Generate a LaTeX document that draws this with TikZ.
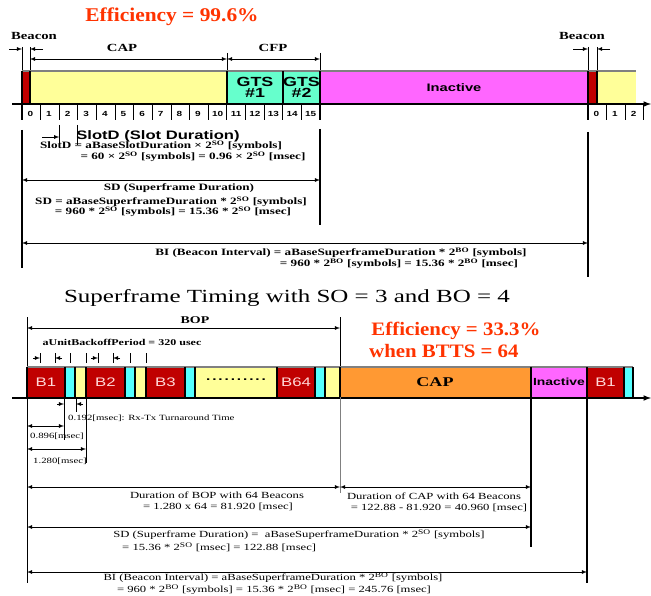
\documentclass[tikz,border=0pt]{standalone}
\usepackage{fontspec}
\setmainfont{Liberation Serif}[FakeStretch=1.35]
\setsansfont{Liberation Sans}[FakeStretch=1.35]
\newfontfamily\serifrouge{Liberation Serif}[FakeStretch=1.1]
\definecolor{rougeBalise}{HTML}{C00000}
\definecolor{jauneCAP}{HTML}{FFFF99}
\definecolor{vertGTS}{HTML}{66FFCC}
\definecolor{roseInactif}{HTML}{FF66FF}
\definecolor{cyanTour}{HTML}{55FFFF}
\definecolor{orangeCAP}{HTML}{FF9933}
\definecolor{rougeTexte}{HTML}{FF3300}
\definecolor{roseTexte}{HTML}{FFD8D8}
\definecolor{grisBord}{HTML}{808080}
\begin{document}
\begin{tikzpicture}[x=0.03cm,y=-0.03cm]
			% Styles
			\tikzstyle{segment}=[draw=black,line width=0.9pt]
			\tikzstyle{bord}=[draw=grisBord,line width=1pt]
			\tikzstyle{axe}=[->,>=latex,line width=1.2pt]
			\tikzstyle{cote}=[<->,>=latex,line width=0.5pt]
			\tikzstyle{fleche}=[->,>=latex,line width=0.5pt]
			\tikzstyle{repere}=[line width=1.4pt]
			\tikzstyle{trait}=[line width=0.7pt]
			\tikzstyle{titre}=[inner sep=0pt,font=\fontsize{9.3}{10}\selectfont\bfseries]
			\tikzstyle{formule}=[inner sep=0pt,font=\fontsize{8.3}{9}\selectfont\bfseries]
			\tikzstyle{texte}=[inner sep=0pt,font=\fontsize{8}{9}\selectfont]
			\tikzstyle{petit}=[inner sep=0pt,font=\fontsize{6.8}{7.5}\selectfont]
			\tikzstyle{rendement}=[inner sep=0pt,text=rougeTexte,font=\serifrouge\fontsize{16.6}{18}\selectfont\bfseries]
			\tikzstyle{case}=[inner sep=0pt,font=\sffamily\bfseries\fontsize{9.3}{10}\selectfont]
			\tikzstyle{gts}=[inner sep=0pt,font=\sffamily\bfseries\fontsize{11.3}{12}\selectfont]
			\tikzstyle{chiffre}=[inner sep=0pt,font=\sffamily\bfseries\fontsize{6.3}{7}\selectfont]
			\tikzstyle{balise}=[inner sep=0pt,text=roseTexte,font=\sffamily\fontsize{10.6}{11}\selectfont]
			% Dimensions
			\def\Debut{22}
			\def\Slot{18.625}
			\def\HautA{71}
			\def\BasA{104}
			\def\HautB{367}
			\def\BasB{397}
			\useasboundingbox (0,0) rectangle (651,596);
			%
			% Partie haute : supertrame
			\node[rendement] (effA) at (172,17) {Efficiency = 99.6\%};
			\node[titre] (beaconG) at (34,36) {Beacon};
			\node[titre] (beaconD) at (582,36) {Beacon};
			\node[titre] (cap) at (122,48) {CAP};
			\node[titre] (cfp) at (273,48) {CFP};
			\draw[trait] (22,47) -- (22,\HautA);
			\draw[trait] (30,47) -- (30,\HautA);
			\draw[trait] (227,53) -- (227,\HautA);
			\draw[trait] (320,53) -- (320,\HautA);
			\draw[trait] (588,47) -- (588,\HautA);
			\draw[trait] (597,47) -- (597,\HautA);
			% Trame
			\fill[rougeBalise] (22,\HautA) rectangle (30,\BasA);
			\fill[jauneCAP] (30,\HautA) rectangle (227,\BasA);
			\fill[vertGTS] (227,\HautA) rectangle (320,\BasA);
			\fill[roseInactif] (320,\HautA) rectangle (588,\BasA);
			\fill[rougeBalise] (588,\HautA) rectangle (597,\BasA);
			\fill[jauneCAP] (597,\HautA) rectangle (636,\BasA);
			\draw[bord] (22,\HautA) -- (636,\HautA);
			\draw[segment] (30,\HautA) -- (30,\BasA);
			\draw[segment] (227,\HautA) -- (227,\BasA);
			\draw[segment] (283,\HautA) -- (283,\BasA);
			\draw[segment] (597,\HautA) -- (597,\BasA);
			\draw[repere] (22,\HautA) -- (22,120);
			\draw[repere] (320,\HautA) -- (320,120);
			\draw[repere] (588,\HautA) -- (588,120);
			\draw[axe] (12,\BasA) -- (651,\BasA);
			\node[gts] (gtsA) at (255,81.5) {GTS};
			\node[gts] (gtsAn) at (255,93) {\#1};
			\node[gts] (gtsB) at (301.5,81.5) {GTS};
			\node[gts] (gtsBn) at (301.5,93) {\#2};
			\node[case] (inactifA) at (454,88) {Inactive};
			% Cotes du haut
			\coordinate (bgA) at (9,49); \coordinate (bgB) at (22,49);
			\coordinate (bgC) at (43,49); \coordinate (bgD) at (30,49);
			\coordinate (bdA) at (573,49); \coordinate (bdB) at (588,49);
			\coordinate (bdC) at (610,49); \coordinate (bdD) at (597,49);
			\coordinate (capG) at (30,59); \coordinate (capD) at (227,59);
			\coordinate (cfpD) at (320,59);
			\draw[fleche] (bgA) -- (bgB);
			\draw[fleche] (bgC) -- (bgD);
			\draw[fleche] (bdA) -- (bdB);
			\draw[fleche] (bdC) -- (bdD);
			\draw[cote] (capG) -- (capD);
			\draw[cote] (capD) -- (cfpD);
			% Intervalles
			\draw[trait] ({\Debut+(1)*\Slot},\BasA) -- ({\Debut+(1)*\Slot},120);
			\draw[trait] ({\Debut+(2)*\Slot},\BasA) -- ({\Debut+(2)*\Slot},120);
			\draw[trait] ({\Debut+(3)*\Slot},\BasA) -- ({\Debut+(3)*\Slot},120);
			\draw[trait] ({\Debut+(4)*\Slot},\BasA) -- ({\Debut+(4)*\Slot},120);
			\draw[trait] ({\Debut+(5)*\Slot},\BasA) -- ({\Debut+(5)*\Slot},120);
			\draw[trait] ({\Debut+(6)*\Slot},\BasA) -- ({\Debut+(6)*\Slot},120);
			\draw[trait] ({\Debut+(7)*\Slot},\BasA) -- ({\Debut+(7)*\Slot},120);
			\draw[trait] ({\Debut+(8)*\Slot},\BasA) -- ({\Debut+(8)*\Slot},120);
			\draw[trait] ({\Debut+(9)*\Slot},\BasA) -- ({\Debut+(9)*\Slot},120);
			\draw[trait] ({\Debut+(10)*\Slot},\BasA) -- ({\Debut+(10)*\Slot},120);
			\draw[trait] ({\Debut+(11)*\Slot},\BasA) -- ({\Debut+(11)*\Slot},120);
			\draw[trait] ({\Debut+(12)*\Slot},\BasA) -- ({\Debut+(12)*\Slot},120);
			\draw[trait] ({\Debut+(13)*\Slot},\BasA) -- ({\Debut+(13)*\Slot},120);
			\draw[trait] ({\Debut+(14)*\Slot},\BasA) -- ({\Debut+(14)*\Slot},120);
			\draw[trait] ({\Debut+(15)*\Slot},\BasA) -- ({\Debut+(15)*\Slot},120);
			\draw[trait] ({588+(1)*\Slot},\BasA) -- ({588+(1)*\Slot},120);
			\draw[trait] ({588+(2)*\Slot},\BasA) -- ({588+(2)*\Slot},120);
			\draw[trait] ({588+(3)*\Slot},\BasA) -- ({588+(3)*\Slot},120);
			\node[chiffre] (s0) at ({\Debut+(0.45)*\Slot},113.5) {0};
			\node[chiffre] (s1) at ({\Debut+(1.45)*\Slot},113.5) {1};
			\node[chiffre] (s2) at ({\Debut+(2.45)*\Slot},113.5) {2};
			\node[chiffre] (s3) at ({\Debut+(3.45)*\Slot},113.5) {3};
			\node[chiffre] (s4) at ({\Debut+(4.45)*\Slot},113.5) {4};
			\node[chiffre] (s5) at ({\Debut+(5.45)*\Slot},113.5) {5};
			\node[chiffre] (s6) at ({\Debut+(6.45)*\Slot},113.5) {6};
			\node[chiffre] (s7) at ({\Debut+(7.45)*\Slot},113.5) {7};
			\node[chiffre] (s8) at ({\Debut+(8.45)*\Slot},113.5) {8};
			\node[chiffre] (s9) at ({\Debut+(9.45)*\Slot},113.5) {9};
			\node[chiffre] (s10) at ({\Debut+(10.5)*\Slot},113.5) {10};
			\node[chiffre] (s11) at ({\Debut+(11.5)*\Slot},113.5) {11};
			\node[chiffre] (s12) at ({\Debut+(12.5)*\Slot},113.5) {12};
			\node[chiffre] (s13) at ({\Debut+(13.5)*\Slot},113.5) {13};
			\node[chiffre] (s14) at ({\Debut+(14.5)*\Slot},113.5) {14};
			\node[chiffre] (s15) at ({\Debut+(15.5)*\Slot},113.5) {15};
			\node[chiffre] (t0) at ({588+(0.45)*\Slot},113.5) {0};
			\node[chiffre] (t1) at ({588+(1.45)*\Slot},113.5) {1};
			\node[chiffre] (t2) at ({588+(2.45)*\Slot},113.5) {2};
			% Reperes verticaux
			\draw[repere] (22,130) -- (22,268);
			\draw[repere] (320,129) -- (320,225);
			\draw[repere] (588,132) -- (588,277);
			\draw[trait] ({\Debut+(2)*\Slot},125) -- ({\Debut+(2)*\Slot},145);
			\draw[trait] ({\Debut+(3)*\Slot},125) -- ({\Debut+(3)*\Slot},145);
			\coordinate (slA) at (42,137); \coordinate (slB) at ({\Debut+(2)*\Slot},137);
			\draw[fleche] (slA) -- (slB);
			\node[inner sep=0pt,font=\sffamily\bfseries\fontsize{10.5}{11}\selectfont] (slotd) at (158,136) {SlotD (Slot Duration)};
			\node[formule] (slotdA) at (161,146) {SlotD = aBaseSlotDuration × 2\textsuperscript{SO} [symbols]};
			\node[formule] (slotdB) at (193,156.5) {= 60 × 2\textsuperscript{SO} [symbols] = 0.96 × 2\textsuperscript{SO} [msec]};
			\coordinate (sdG) at (22,180); \coordinate (sdD) at (320,180);
			\draw[cote] (sdG) -- (sdD);
			\node[formule] (sd) at (179,188) {SD (Superframe Duration)};
			\node[formule] (sdA) at (171,202) {SD = aBaseSuperframeDuration * 2\textsuperscript{SO} [symbols]};
			\node[formule] (sdB) at (173,212) {= 960 * 2\textsuperscript{SO} [symbols] = 15.36 * 2\textsuperscript{SO} [msec]};
			\coordinate (biG) at (22,243); \coordinate (biD) at (588,243);
			\draw[cote] (biG) -- (biD);
			\node[formule] (biA) at (341,253) {BI (Beacon Interval) = aBaseSuperframeDuration * 2\textsuperscript{BO} [symbols]};
			\node[formule] (biB) at (399,264) {= 960 * 2\textsuperscript{BO} [symbols] = 15.36 * 2\textsuperscript{BO} [msec]};
			%
			% Titre central
			\node[inner sep=0pt,font=\fontsize{15.8}{17}\selectfont] (titre) at (287,298) {Superframe Timing with SO = 3 and BO = 4};
			%
			% Partie basse : balises
			\draw[trait] (27,317) -- (27,583);
			\draw[trait] (340,317) -- (340,\HautB);
			\node[formule,font=\fontsize{8.8}{9}\selectfont\bfseries] (bop) at (195,320) {BOP};
			\coordinate (bopG) at (27,328); \coordinate (bopD) at (340,328);
			\draw[cote] (bopG) -- (bopD);
			\node[formule,font=\fontsize{7.6}{8}\selectfont\bfseries] (backoff) at (122,342) {aUnitBackoffPeriod = 320 usec};
			\draw[trait] (40,353) -- (40,363);
			\draw[trait] (55,353) -- (55,363);
			\draw[trait] (70,353) -- (70,363);
			\draw[trait] (86,353) -- (86,363);
			\draw[trait] (98,353) -- (98,363);
			\draw[trait] (113,353) -- (113,363);
			\draw[trait] (130,353) -- (130,363);
			\draw[trait] (146,353) -- (146,363);
			\coordinate (ubA) at (33,358); \coordinate (ubB) at (40,358);
			\coordinate (ubC) at (62,358); \coordinate (ubD) at (55,358);
			\coordinate (ubE) at (91,358); \coordinate (ubF) at (98,358);
			\coordinate (ubG) at (120,358); \coordinate (ubH) at (113,358);
			\draw[fleche] (ubA) -- (ubB);
			\draw[fleche] (ubC) -- (ubD);
			\draw[fleche] (ubE) -- (ubF);
			\draw[fleche] (ubG) -- (ubH);
			\node[rendement,font=\serifrouge\fontsize{16.2}{17}\selectfont\bfseries] (effB) at (456,331) {Efficiency = 33.3\%};
			\node[rendement,font=\serifrouge\fontsize{16.2}{17}\selectfont\bfseries,anchor=west] (btts) at (369,351) {when BTTS = 64};
			% Trame des balises
			\fill[rougeBalise] (27,\HautB) rectangle (65,\BasB);
			\fill[cyanTour] (65,\HautB) rectangle (75,\BasB);
			\fill[jauneCAP] (75,\HautB) rectangle (86,\BasB);
			\fill[rougeBalise] (86,\HautB) rectangle (125,\BasB);
			\fill[cyanTour] (125,\HautB) rectangle (135,\BasB);
			\fill[jauneCAP] (135,\HautB) rectangle (146,\BasB);
			\fill[rougeBalise] (146,\HautB) rectangle (185,\BasB);
			\fill[cyanTour] (185,\HautB) rectangle (195,\BasB);
			\fill[jauneCAP] (195,\HautB) rectangle (277,\BasB);
			\fill[rougeBalise] (277,\HautB) rectangle (315,\BasB);
			\fill[cyanTour] (315,\HautB) rectangle (325,\BasB);
			\fill[jauneCAP] (325,\HautB) rectangle (340,\BasB);
			\fill[orangeCAP] (340,\HautB) rectangle (531,\BasB);
			\fill[roseInactif] (531,\HautB) rectangle (587,\BasB);
			\fill[rougeBalise] (587,\HautB) rectangle (624,\BasB);
			\fill[cyanTour] (624,\HautB) rectangle (633,\BasB);
			\draw[bord] (27,\HautB) -- (633,\HautB);
			\draw[segment] (27,\HautB) -- (27,\BasB);
			\draw[segment] (65,\HautB) -- (65,\BasB);
			\draw[segment] (75,\HautB) -- (75,\BasB);
			\draw[segment] (86,\HautB) -- (86,\BasB);
			\draw[segment] (125,\HautB) -- (125,\BasB);
			\draw[segment] (135,\HautB) -- (135,\BasB);
			\draw[segment] (146,\HautB) -- (146,\BasB);
			\draw[segment] (185,\HautB) -- (185,\BasB);
			\draw[segment] (195,\HautB) -- (195,\BasB);
			\draw[segment] (277,\HautB) -- (277,\BasB);
			\draw[segment] (315,\HautB) -- (315,\BasB);
			\draw[segment] (325,\HautB) -- (325,\BasB);
			\draw[segment] (340,\HautB) -- (340,\BasB);
			\draw[segment] (531,\HautB) -- (531,\BasB);
			\draw[segment] (587,\HautB) -- (587,\BasB);
			\draw[segment] (624,\HautB) -- (624,\BasB);
			\draw[segment] (633,\HautB) -- (633,\BasB);
			\draw[axe] (12,398) -- (651,398);
			\node[balise] (bA) at (46,382) {B1};
			\node[balise] (bB) at (105.5,382) {B2};
			\node[balise] (bC) at (165.5,382) {B3};
			\node[inner sep=0pt,font=\sffamily\bfseries\fontsize{9.7}{10}\selectfont] (points) at (236,380) {.\,.\,.\,.\,.\,.\,.\,.\,.\,.};
			\node[balise] (bD) at (296,382) {B64};
			\node[inner sep=0pt,font=\fontsize{11.4}{12}\selectfont\bfseries] (capB) at (435,382) {CAP};
			\node[case,font=\sffamily\bfseries\fontsize{8.8}{9}\selectfont] (inactifB) at (559,382) {Inactive};
			\node[balise] (bE) at (605.5,382) {B1};
			% Reperes et cotes du bas
			\draw[trait] (64,\BasB) -- (64,440);
			\draw[trait] (76,\BasB) -- (76,412);
			\draw[trait] (86,\BasB) -- (86,463);
			\draw[trait,draw=grisBord] (340,\BasB) -- (340,493);
			\draw[repere] (531,\BasB) -- (531,547);
			\draw[repere] (587,\BasB) -- (587,583);
			\coordinate (rtA) at (57,404); \coordinate (rtB) at (64,404);
			\coordinate (rtC) at (83,404); \coordinate (rtD) at (76,404);
			\draw[fleche] (rtA) -- (rtB);
			\draw[fleche] (rtC) -- (rtD);
			\node[petit,anchor=west] (rxtx) at (68,418) {0.192[msec]: Rx-Tx Turnaround Time};
			\coordinate (bcG) at (27,426); \coordinate (bcD) at (64,426);
			\draw[cote] (bcG) -- (bcD);
			\node[petit,anchor=west] (dureeA) at (30,436) {0.896[msec]};
			\coordinate (blG) at (27,449); \coordinate (blD) at (86,449);
			\draw[cote] (blG) -- (blD);
			\node[petit,anchor=west] (dureeB) at (33,461) {1.280[msec]};
			\coordinate (dbG) at (27,487); \coordinate (dbD) at (340,487);
			\coordinate (dcD) at (531,487);
			\draw[cote] (dbG) -- (dbD);
			\draw[cote] (dbD) -- (dcD);
			\node[texte] (dBopA) at (217,495) {Duration of BOP with 64 Beacons};
			\node[texte] (dBopB) at (218,507) {= 1.280 x 64 = 81.920 [msec]};
			\node[texte] (dCapA) at (434,496) {Duration of CAP with 64 Beacons};
			\node[texte] (dCapB) at (439,508) {= 122.88 - 81.920 = 40.960 [msec]};
			\coordinate (sbG) at (27,527); \coordinate (sbD) at (531,527);
			\draw[cote] (sbG) -- (sbD);
			\node[texte] (sdBasA) at (299,534.5) {SD (Superframe Duration) =\ \ aBaseSuperframeDuration * 2\textsuperscript{SO} [symbols]};
			\node[texte,anchor=west] (sdBasB) at (122,547) {= 15.36 * 2\textsuperscript{SO} [msec] = 122.88 [msec]};
			\coordinate (ibG) at (27,572); \coordinate (ibD) at (587,572);
			\draw[cote] (ibG) -- (ibD);
			\node[texte] (biBasA) at (273,578) {BI (Beacon Interval) = aBaseSuperframeDuration * 2\textsuperscript{BO} [symbols]};
			\node[texte] (biBasB) at (274,590) {= 960 * 2\textsuperscript{BO} [symbols] = 15.36 * 2\textsuperscript{BO} [msec] = 245.76 [msec]};
\end{tikzpicture}
\end{document}
